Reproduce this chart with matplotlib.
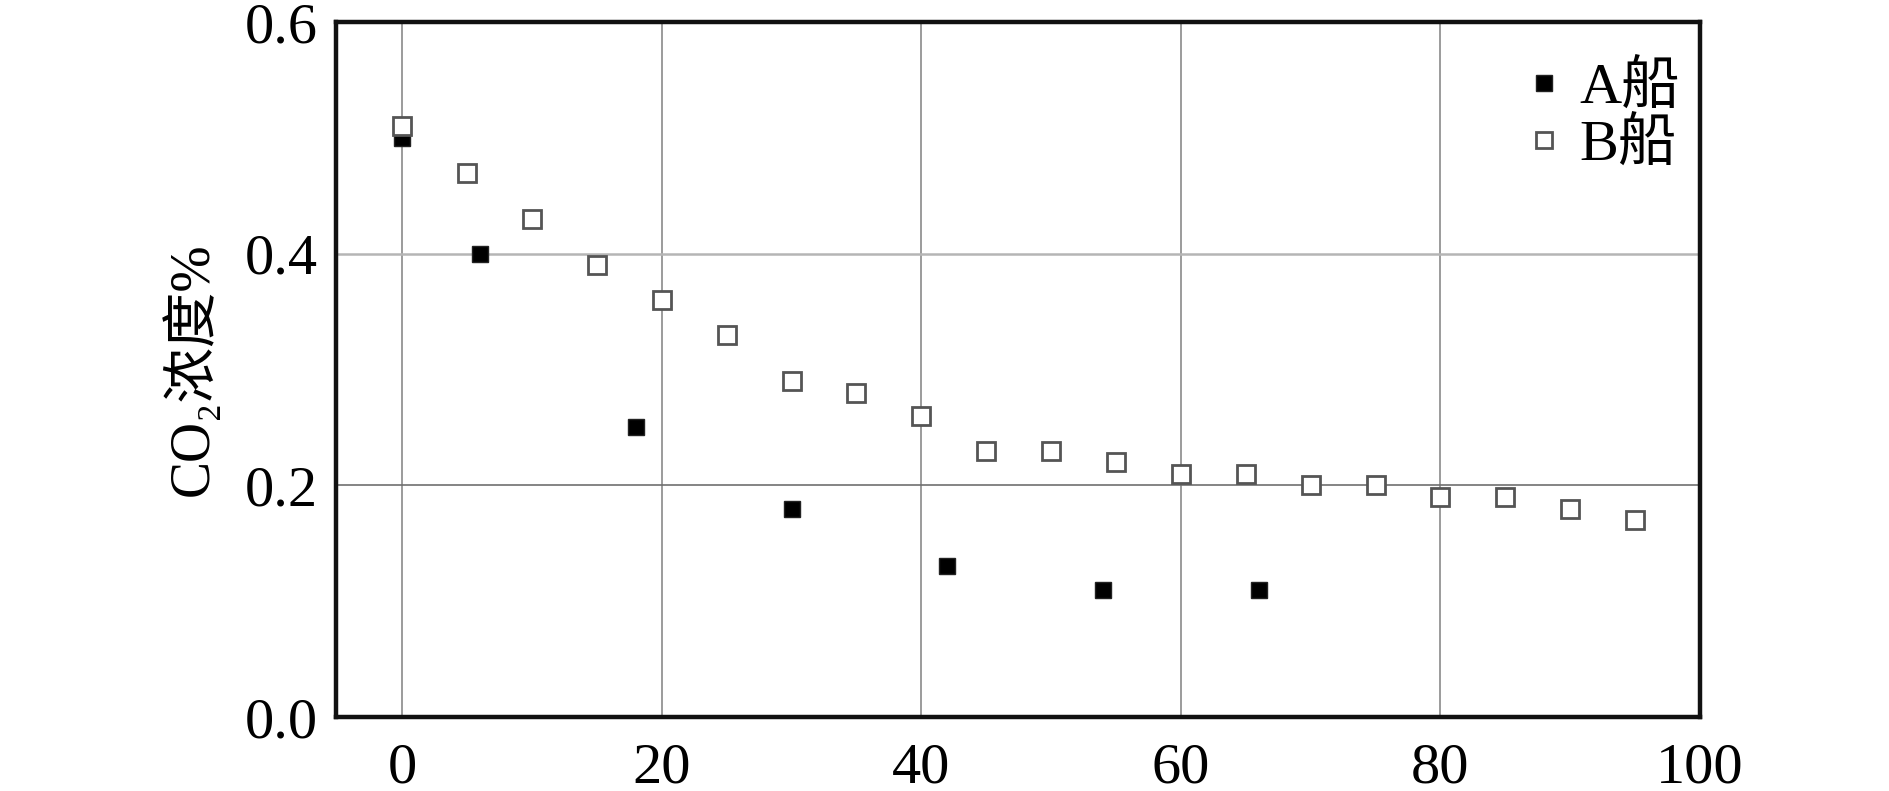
import matplotlib
matplotlib.use("Agg")
import matplotlib.pyplot as plt

# Data
a_x = [0, 6, 18, 30, 42, 54, 66]
a_y = [0.50, 0.40, 0.25, 0.18, 0.13, 0.11, 0.11]

b_x = [0, 5, 10, 15, 20, 25, 30, 35, 40, 45, 50, 55, 60, 65, 70, 75, 80, 85, 90, 95]
b_y = [0.51, 0.47, 0.43, 0.39, 0.36, 0.33, 0.29, 0.28, 0.26, 0.23,
       0.23, 0.22, 0.21, 0.21, 0.20, 0.20, 0.19, 0.19, 0.18, 0.17]

x_ticks = [0, 20, 40, 60, 80, 100]
y_ticks = [0.0, 0.2, 0.4, 0.6]
y_tick_labels = ["0.0", "0.2", "0.4", "0.6"]

FONTS = ["Liberation Serif", "Noto Sans CJK SC"]
plt.rcParams["font.family"] = FONTS

fig = plt.figure(figsize=(18.9, 7.91), dpi=100)
ax = fig.add_axes([0.1778, 0.0935, 0.7217, 0.8786])

# grid lines
for gx in x_ticks[:-1]:
    ax.axvline(gx, color="#8a8a8a", lw=1.2, zorder=1)
ax.axhline(0.2, color="#6f6f6f", lw=1.2, zorder=1)
ax.axhline(0.4, color="#b5b5b5", lw=1.8, zorder=1)

ax.plot(a_x, a_y, ls="none", marker="s", ms=11.5, mfc="black", mec="#222222",
        mew=1.0, label="A船", zorder=3)
ax.plot(b_x, b_y, ls="none", marker="s", ms=12.5, mfc="white", mec="#555555",
        mew=2.0, label="B船", zorder=3)

ax.set_xlim(-5.1, 100)
ax.set_ylim(0, 0.6)
ax.set_xticks(x_ticks)
ax.set_yticks(y_ticks)
ax.set_yticklabels(y_tick_labels)
ax.tick_params(length=0, labelsize=42)
ax.tick_params(axis="y", pad=13)
ax.tick_params(axis="x", pad=18)

for sp in ax.spines.values():
    sp.set_linewidth(3.2)
    sp.set_color("#111111")

ax.set_ylabel("CO₂浓度%", fontsize=40, labelpad=18)

leg = ax.legend(loc="upper right", frameon=False, fontsize=42, markerscale=0.95,
                handlelength=0.6, handletextpad=0.3, labelspacing=0.05,
                borderpad=0.35, borderaxespad=0.0, bbox_to_anchor=(1.0, 0.973))

fig.savefig("out.png", dpi=100)
